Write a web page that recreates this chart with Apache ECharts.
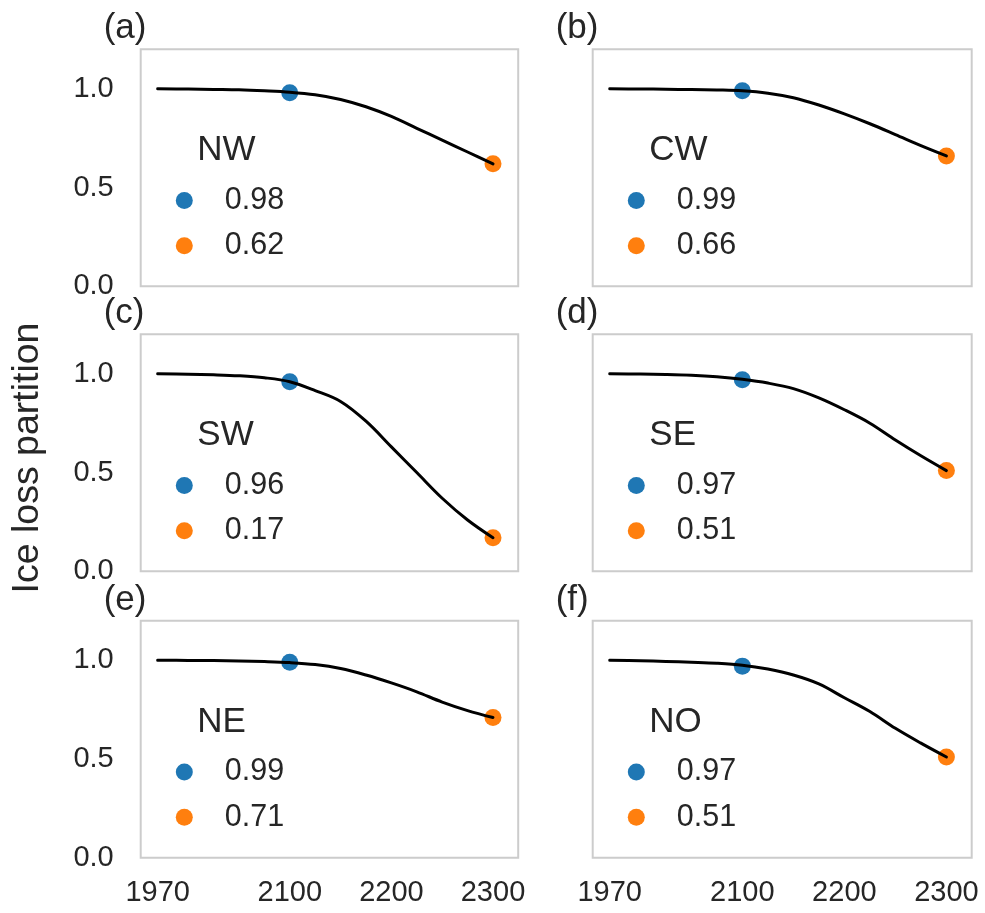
<!DOCTYPE html>
<html>
<head>
<meta charset="utf-8">
<script src="https://cdn.jsdelivr.net/npm/echarts@6/dist/echarts.min.js"></script>
<style>
  html, body { margin: 0; padding: 0; background: #ffffff; }
  #chart { width: 985px; height: 913px; }
</style>
</head>
<body>
<div id="chart"></div>
<script>
// Sample years for the partition curves
const years = [1970, 2000, 2025, 2050, 2075, 2100, 2125, 2150, 2175, 2200, 2225, 2250, 2275, 2300];

// Ice loss partition per region
const curveNW = [1.0, 0.999, 0.997, 0.995, 0.99, 0.983, 0.97, 0.946, 0.909, 0.86, 0.80, 0.74, 0.68, 0.62];
const curveCW = [1.0, 0.999, 0.998, 0.996, 0.994, 0.99, 0.978, 0.955, 0.918, 0.873, 0.823, 0.768, 0.712, 0.66];
const curveSW = [1.0, 0.998, 0.995, 0.99, 0.98, 0.96, 0.915, 0.86, 0.76, 0.63, 0.50, 0.37, 0.26, 0.17];
const curveSE = [1.0, 0.999, 0.997, 0.993, 0.985, 0.972, 0.953, 0.925, 0.878, 0.818, 0.75, 0.665, 0.585, 0.51];
const curveNE = [1.0, 0.999, 0.998, 0.996, 0.993, 0.988, 0.978, 0.958, 0.925, 0.885, 0.84, 0.788, 0.745, 0.71];
const curveNO = [1.0, 0.997, 0.994, 0.99, 0.985, 0.975, 0.955, 0.925, 0.88, 0.81, 0.74, 0.655, 0.58, 0.51];

const regions = ['NW', 'CW', 'SW', 'SE', 'NE', 'NO'];
const panelTags = ['(a)', '(b)', '(c)', '(d)', '(e)', '(f)'];
const curves = [curveNW, curveCW, curveSW, curveSE, curveNE, curveNO];

// Highlighted values: year 2100 and year 2300
const markYears = [2100, 2300];
const value2100 = [0.98, 0.99, 0.96, 0.97, 0.99, 0.97];
const value2300 = [0.62, 0.66, 0.17, 0.51, 0.71, 0.51];

const xTicks = [1970, 2100, 2200, 2300];
const yTicks = [0, 0.5, 1.0];

// Layout
const FONT = "'Liberation Sans', Arial, Helvetica, sans-serif";
const TEXT = '#262626';
const colLeft = [140.7, 592.7];
const colWidth = [377.5, 379];
const rowTop = [49.3, 334.3, 620.7];
const rowHeight = 237;
const BLUE = '#1f77b4';
const ORANGE = '#ff7f0e';

const grids = [], xAxes = [], yAxes = [], series = [], titles = [], legends = [];

regions.forEach((reg, i) => {
  const col = i % 2, row = Math.floor(i / 2);
  const L = colLeft[col], T = rowTop[row];
  grids.push({
    left: L, top: T, width: colWidth[col], height: rowHeight,
    show: true, borderColor: '#cccccc', borderWidth: 2, backgroundColor: '#ffffff'
  });
  xAxes.push({
    type: 'value', gridIndex: i, min: 1953.3, max: 2324.8,
    axisLine: { show: false }, axisTick: { show: false }, splitLine: { show: false },
    axisLabel: {
      show: row === 2, customValues: xTicks, margin: 21,
      fontSize: 29, fontFamily: FONT, color: TEXT,
      formatter: v => String(v)
    }
  });
  yAxes.push({
    type: 'value', gridIndex: i, min: 0, max: 1.2,
    axisLine: { show: false }, axisTick: { show: false }, splitLine: { show: false },
    axisLabel: {
      show: col === 0, customValues: yTicks, margin: 27,
      fontSize: 29, fontFamily: FONT, color: TEXT,
      formatter: v => v.toFixed(1)
    }
  });

  const blueName = value2100[i].toFixed(2);
  const orangeName = value2300[i].toFixed(2);

  series.push({
    type: 'scatter', name: blueName, xAxisIndex: i, yAxisIndex: i,
    data: [[markYears[0], value2100[i]]], symbolSize: 17,
    itemStyle: { color: BLUE, opacity: 1 }, z: 2, silent: true
  });
  series.push({
    type: 'scatter', name: orangeName, xAxisIndex: i, yAxisIndex: i,
    data: [[markYears[1], value2300[i]]], symbolSize: 17,
    itemStyle: { color: ORANGE, opacity: 1 }, z: 2, silent: true
  });
  series.push({
    type: 'line', name: reg + '-curve', xAxisIndex: i, yAxisIndex: i,
    data: years.map((y, k) => [y, curves[i][k]]),
    showSymbol: false, smooth: 0.35,
    lineStyle: { color: '#000000', width: 3, cap: 'round', join: 'round' },
    z: 3, silent: true
  });

  // panel tag
  titles.push({
    text: panelTags[i], left: L - 37, top: T - 38,
    padding: 0,
    textStyle: { fontSize: 35, fontWeight: 'normal', fontFamily: FONT, color: TEXT, lineHeight: 35 }
  });
  // legend title (region)
  titles.push({
    text: reg, left: L + 56.6, top: T + 101.4 - 17.5,
    padding: 0,
    textStyle: { fontSize: 35, fontWeight: 'normal', fontFamily: FONT, color: TEXT, lineHeight: 35 }
  });
  legends.push({
    data: [blueName, orangeName], orient: 'vertical',
    left: L + 43.6 - 8.5, top: T + 150.7 - 15,
    padding: 0, itemWidth: 17, itemHeight: 17, itemGap: 14.3,
    icon: 'circle', selectedMode: false,
    itemStyle: { opacity: 1 },
    textStyle: { fontSize: 30.5, fontFamily: FONT, color: TEXT, lineHeight: 30, padding: [0, 0, 0, 27] }
  });
});

const chart = echarts.init(document.getElementById('chart'), null, { renderer: 'canvas' });
chart.setOption({
  animation: false,
  backgroundColor: '#ffffff',
  grid: grids,
  xAxis: xAxes,
  yAxis: yAxes,
  title: titles,
  legend: legends,
  series: series,
  graphic: [{
    type: 'text', x: 28, y: 458, rotation: Math.PI / 2,
    style: {
      text: 'Ice loss partition', fill: TEXT, fontSize: 37.5, fontFamily: FONT,
      align: 'center', verticalAlign: 'middle'
    }
  }]
});
</script>
</body>
</html>
